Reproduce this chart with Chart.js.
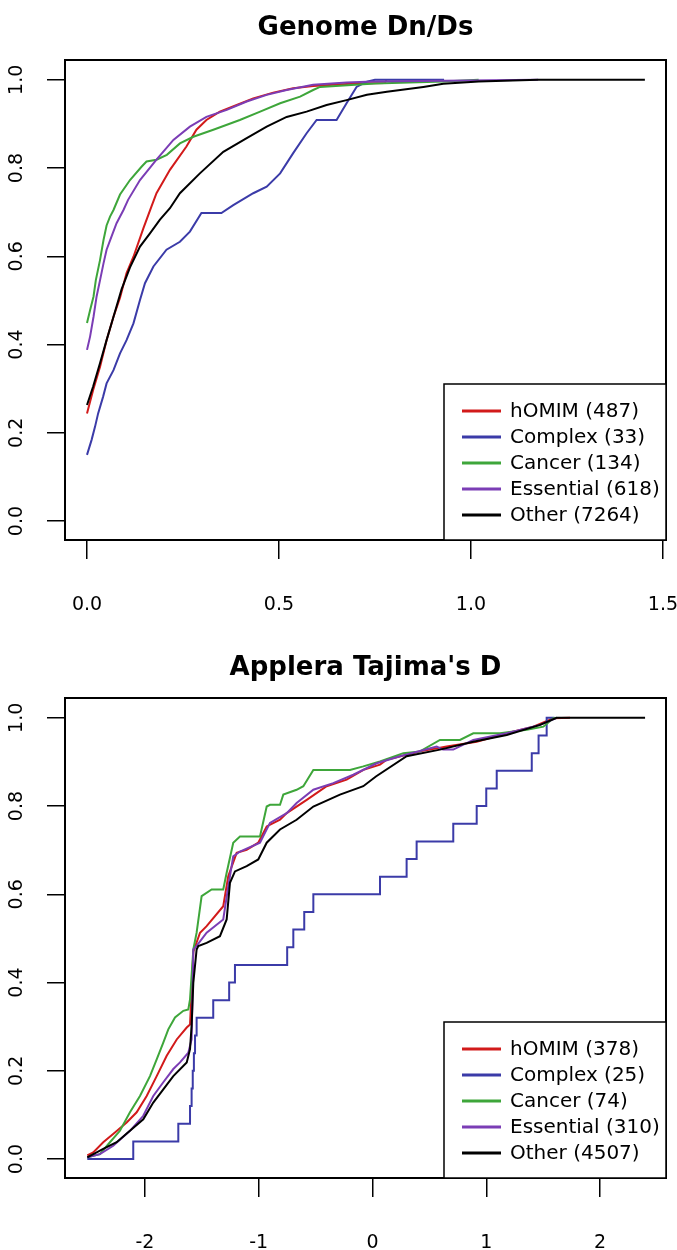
<!DOCTYPE html>
<html>
<head>
<meta charset="utf-8">
<script src="https://cdn.jsdelivr.net/npm/chart.js@4.4.1/dist/chart.umd.min.js"></script>
<style>
  body { margin: 0; background: #fff; }
  canvas { display: block; }
</style>
</head>
<body>
<canvas id="dnds" width="677" height="635"></canvas>
<canvas id="tajima" width="677" height="615"></canvas>
<script>
// ---- data ----
const seriesColors = ['#d21a1a', '#3b3ba8', '#3ea63a', '#7b3db5', '#000000'];
const yTicks = [0, 0.2, 0.4, 0.6, 0.8, 1.0];
const yTickLabels = ['0.0', '0.2', '0.4', '0.6', '0.8', '1.0'];

// Genome Dn/Ds
const dndsTitle = 'Genome Dn/Ds';
const dndsLabels = ['hOMIM (487)', 'Complex (33)', 'Cancer (134)', 'Essential (618)', 'Other (7264)'];
const dndsTicks = [0, 0.5, 1.0, 1.5];
const dndsTickLabels = ['0.0', '0.5', '1.0', '1.5'];
const dndsOmim = [[0,.244],[.016,.297],[.034,.350],[.051,.410],[.069,.463],[.086,.506],[.103,.562],[.121,.599],[.147,.664],[.168,.713],[.181,.743],[.216,.796],[.259,.849],[.285,.887],[.311,.909],[.346,.928],[.390,.943],[.433,.958],[.485,.971],[.537,.981],[.589,.986],[.641,.989],[.70,.992],[.776,.993],[.78,1.0]];
const dndsComplex = [[0,.150],[.012,.184],[.021,.214],[.029,.244],[.042,.282],[.051,.312],[.069,.342],[.086,.380],[.103,.410],[.121,.448],[.138,.501],[.151,.539],[.173,.577],[.207,.615],[.242,.633],[.268,.656],[.298,.698],[.350,.698],[.381,.716],[.433,.743],[.468,.758],[.503,.788],[.537,.834],[.572,.879],[.598,.909],[.650,.909],[.676,.947],[.702,.984],[.729,.996],[.75,1.0],[.93,1.0]];
const dndsCancer = [[0,.449],[.008,.478],[.017,.509],[.023,.546],[.034,.592],[.043,.637],[.051,.670],[.060,.690],[.069,.705],[.086,.740],[.112,.773],[.142,.803],[.155,.815],[.181,.819],[.208,.830],[.242,.856],[.277,.871],[.329,.887],[.398,.909],[.451,.928],[.503,.947],[.555,.962],[.589,.977],[.607,.984],[.75,.992],[.93,.996],[1.02,1.0]];
const dndsEssential = [[0,.388],[.008,.418],[.017,.463],[.025,.509],[.034,.546],[.043,.584],[.051,.615],[.064,.645],[.077,.675],[.095,.705],[.107,.728],[.138,.773],[.181,.819],[.225,.864],[.268,.894],[.311,.916],[.364,.932],[.416,.951],[.468,.966],[.520,.977],[.589,.989],[.676,.994],[.745,.996],[1.175,1.0]];
const dndsOther = [[0,.263],[.016,.305],[.034,.358],[.051,.410],[.069,.463],[.090,.525],[.112,.575],[.138,.622],[.164,.652],[.190,.683],[.216,.709],[.242,.743],[.294,.788],[.355,.837],[.416,.868],[.468,.894],[.520,.916],[.572,.928],[.624,.943],[.676,.954],[.729,.966],[.781,.973],[.876,.984],[.928,.991],[1.02,.996],[1.175,1.0],[1.453,1.0]];

// Applera Tajima's D
const tajTitle = "Applera Tajima's D";
const tajLabels = ['hOMIM (378)', 'Complex (25)', 'Cancer (74)', 'Essential (310)', 'Other (4507)'];
const tajTicks = [-2, -1, 0, 1, 2];
const tajTickLabels = ['-2', '-1', '0', '1', '2'];
const tajOmim = [[-2.507,.008],[-2.455,.015],[-2.367,.038],[-2.264,.060],[-2.161,.083],[-2.073,.106],[-1.985,.143],[-1.897,.188],[-1.809,.234],[-1.721,.271],[-1.633,.298],[-1.604,.305],[-1.590,.380],[-1.575,.470],[-1.516,.513],[-1.458,.528],[-1.312,.573],[-1.268,.641],[-1.194,.694],[-1.106,.701],[-1.004,.717],[-.930,.754],[-.813,.769],[-.754,.784],[-.578,.814],[-.403,.845],[-.227,.860],[-.08,.882],[.066,.894],[.125,.905],[.418,.924],[.652,.935],[.916,.946],[1.180,.965],[1.414,.980],[1.590,.999],[1.736,1.0]];
const tajComplex = [[-2.507,0],[-2.103,.04],[-1.707,.08],[-1.604,.12],[-1.590,.16],[-1.580,.20],[-1.570,.24],[-1.560,.28],[-1.546,.32],[-1.400,.36],[-1.260,.40],[-1.209,.44],[-0.750,.48],[-0.696,.52],[-0.600,.56],[-0.520,.60],[0.066,.64],[0.300,.68],[0.388,.72],[0.710,.76],[0.916,.80],[1.000,.84],[1.092,.88],[1.400,.92],[1.460,.96],[1.531,1.0],[1.60,1.0]];
const tajCancer = [[-2.507,.004],[-2.396,.011],[-2.308,.038],[-2.220,.064],[-2.132,.106],[-2.044,.143],[-1.956,.188],[-1.897,.226],[-1.839,.264],[-1.795,.294],[-1.736,.321],[-1.663,.336],[-1.619,.339],[-1.604,.362],[-1.575,.475],[-1.546,.513],[-1.502,.596],[-1.414,.611],[-1.312,.611],[-1.282,.649],[-1.224,.717],[-1.165,.731],[-.989,.731],[-.930,.799],[-.901,.803],[-.813,.803],[-.784,.826],[-.667,.837],[-.608,.845],[-.520,.882],[-.198,.882],[-.081,.890],[.066,.901],[.271,.920],[.418,.924],[.593,.950],[.769,.950],[.886,.965],[1.121,.965],[1.356,.973],[1.502,.980],[1.590,.999],[1.62,1.0]];
const tajEssential = [[-2.507,.004],[-2.396,.011],[-2.279,.030],[-2.132,.064],[-2.015,.098],[-1.927,.143],[-1.839,.174],[-1.751,.204],[-1.692,.219],[-1.619,.241],[-1.590,.271],[-1.575,.475],[-1.546,.483],[-1.458,.513],[-1.312,.543],[-1.268,.618],[-1.224,.686],[-1.165,.697],[-.989,.717],[-.901,.762],[-.754,.784],[-.667,.807],[-.520,.837],[-.345,.852],[-.169,.871],[.037,.897],[.242,.913],[.564,.935],[.62,.928],[.710,.928],[.886,.950],[1.180,.965],[1.473,.984],[1.619,1.0]];
const tajOther = [[-2.507,.004],[-2.367,.023],[-2.249,.038],[-2.132,.064],[-2.015,.090],[-1.927,.128],[-1.839,.158],[-1.751,.188],[-1.633,.219],[-1.604,.249],[-1.590,.302],[-1.575,.400],[-1.546,.475],[-1.531,.483],[-1.458,.490],[-1.341,.505],[-1.282,.543],[-1.253,.626],[-1.209,.652],[-1.106,.664],[-1.004,.679],[-.930,.717],[-.813,.747],[-.667,.769],[-.520,.799],[-.286,.826],[-.081,.845],[.03,.867],[.300,.913],[.593,.928],[.886,.946],[1.180,.961],[1.473,.984],[1.619,1.0],[2.396,1.0]];

// ---- R-like frame, title, tick labels and boxed legend ----
const FONT = '"DejaVu Sans", sans-serif';
const rStyle = {
  id: 'rStyle',
  afterDraw(chart, args, opts) {
    const { ctx, chartArea: a, scales } = chart;
    ctx.save();
    ctx.strokeStyle = '#000';
    ctx.lineWidth = 2;
    ctx.strokeRect(a.left, a.top, a.right - a.left, a.bottom - a.top);

    ctx.fillStyle = '#000';
    ctx.textAlign = 'center';
    ctx.textBaseline = 'middle';
    ctx.font = 'bold 26px ' + FONT;
    ctx.fillText(opts.title, (a.left + a.right) / 2, opts.titleY);

    ctx.font = '19px ' + FONT;
    yTicks.forEach((v, i) => {
      const py = scales.y.getPixelForValue(v);
      ctx.save();
      ctx.translate(opts.yLabelX, py);
      ctx.rotate(-Math.PI / 2);
      ctx.fillText(yTickLabels[i], 0, 0);
      ctx.restore();
    });
    opts.xTicks.forEach((v, i) => {
      ctx.fillText(opts.xTickLabels[i], scales.x.getPixelForValue(v), a.bottom + 65);
    });

    const w = 222, h = 156;
    const lx = a.right - w, ly = a.bottom - h;
    ctx.fillStyle = '#fff';
    ctx.fillRect(lx, ly, w, h);
    ctx.lineWidth = 1.5;
    ctx.strokeStyle = '#000';
    ctx.strokeRect(lx, ly, w, h);
    ctx.font = '20px ' + FONT;
    ctx.textAlign = 'left';
    chart.data.datasets.forEach((ds, i) => {
      const yy = ly + 27 + i * 26;
      ctx.strokeStyle = ds.borderColor;
      ctx.lineWidth = 3;
      ctx.beginPath();
      ctx.moveTo(lx + 18, yy);
      ctx.lineTo(lx + 57, yy);
      ctx.stroke();
      ctx.fillStyle = '#000';
      ctx.fillText(ds.label, lx + 66, yy + 1);
    });
    ctx.restore();
  }
};

function noPad(s) {
  s.paddingLeft = 0; s.paddingRight = 0; s.paddingTop = 0; s.paddingBottom = 0;
}

function makeChart(id, series, labels, xMin, xMax, xTicks, xTickLabels, padTop, axisH, title, titleY) {
  return new Chart(document.getElementById(id), {
    type: 'line',
    data: {
      datasets: series.map((s, i) => ({
        label: labels[i],
        data: s.pts.map(p => ({ x: p[0], y: p[1] })),
        borderColor: seriesColors[i],
        borderWidth: 2,
        pointRadius: 0,
        tension: 0,
        stepped: s.stepped || false,
        fill: false,
        order: 5 - i
      }))
    },
    options: {
      responsive: false,
      animation: false,
      devicePixelRatio: 1,
      layout: { padding: { top: padTop, right: 11, left: 0, bottom: 0 } },
      plugins: {
        legend: { display: false },
        tooltip: { enabled: false },
        rStyle: { title: title, titleY: titleY, yLabelX: 17, xTicks: xTicks, xTickLabels: xTickLabels }
      },
      scales: {
        x: {
          type: 'linear',
          min: xMin,
          max: xMax,
          afterBuildTicks: s => { s.ticks = xTicks.map(v => ({ value: v })); },
          ticks: { display: false },
          grid: { drawOnChartArea: false, drawTicks: true, tickLength: 19, color: '#000', tickColor: '#000', lineWidth: 1.5 },
          border: { display: true, color: '#000', width: 2 },
          afterFit: s => { s.height = axisH; noPad(s); }
        },
        y: {
          min: -0.043,
          max: 1.045,
          afterBuildTicks: s => { s.ticks = yTicks.map(v => ({ value: v })); },
          ticks: { display: false },
          grid: { drawOnChartArea: false, drawTicks: true, tickLength: 18, color: '#000', tickColor: '#000', lineWidth: 1.5 },
          border: { display: true, color: '#000', width: 2 },
          afterFit: s => { s.width = 65; noPad(s); }
        }
      }
    },
    plugins: [rStyle]
  });
}

makeChart('dnds',
  [{ pts: dndsOmim }, { pts: dndsComplex }, { pts: dndsCancer }, { pts: dndsEssential }, { pts: dndsOther }],
  dndsLabels, -0.0573, 1.508, dndsTicks, dndsTickLabels, 60, 95, dndsTitle, 28);

makeChart('tajima',
  [{ pts: tajOmim }, { pts: tajComplex, stepped: 'before' }, { pts: tajCancer }, { pts: tajEssential }, { pts: tajOther }],
  tajLabels, -2.703, 2.580, tajTicks, tajTickLabels, 63, 72, tajTitle, 33);
</script>
</body>
</html>
